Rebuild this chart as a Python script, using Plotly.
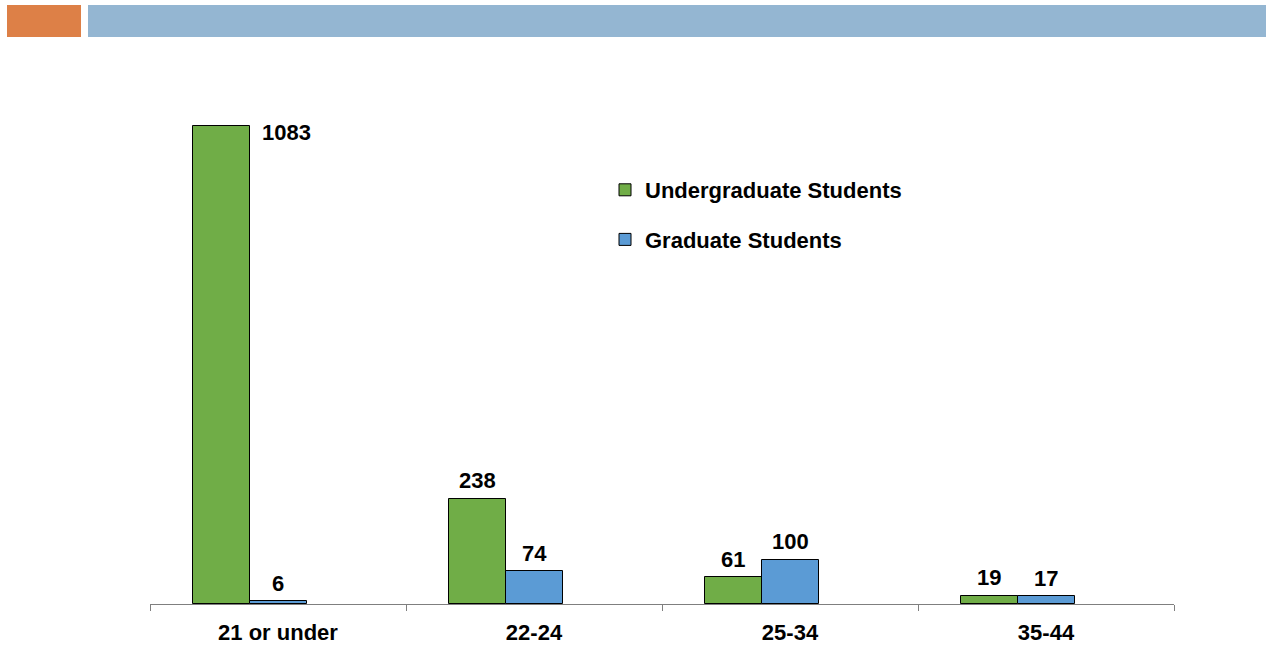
import plotly.graph_objects as go

# Student counts by age group
age_groups = ["21 or under", "22-24", "25-34", "35-44"]
undergrad = [1083, 238, 61, 19]
graduate = [6, 74, 100, 17]

GREEN = "#70AD47"
BLUE = "#5B9BD5"
FONT = "Liberation Sans, Arial, sans-serif"
FS = 22

# each category holds three bar slots; the third slot stays empty
BAR_W = 57 / 256
OFFSETS = (-1.5 * BAR_W, -0.5 * BAR_W)

fig = go.Figure()
fig.add_trace(go.Bar(
    x=age_groups, y=undergrad, name="<b>Undergraduate Students</b>",
    width=BAR_W, offset=OFFSETS[0],
    marker=dict(color=GREEN, line=dict(color="black", width=1)),
    legendgroup="u",
))
fig.add_trace(go.Bar(
    x=age_groups, y=graduate, name="<b>Graduate Students</b>",
    width=BAR_W, offset=OFFSETS[1],
    marker=dict(color=BLUE, line=dict(color="black", width=1)),
    legendgroup="g",
))

# value labels above the bars
bar_px = 57
annotations = []
for i, cat in enumerate(age_groups):
    for vals, off in ((undergrad, -bar_px), (graduate, 0)):
        v = vals[i]
        xs, ys = off, 18
        if v == max(undergrad):
            # tallest bar: label sits beside its top
            xs, ys = off + 65, -7
        annotations.append(dict(
            x=cat, y=v, xref="x", yref="y", text=f"<b>{v}</b>",
            showarrow=False, xshift=xs, yshift=ys,
            xanchor="center", yanchor="middle",
            font=dict(family=FONT, size=FS, color="black"),
        ))

# header bands across the top
shapes = [
    dict(type="rect", xref="paper", yref="paper",
         x0=(7 - 150) / 1024, x1=(81 - 150) / 1024,
         y0=(604 - 37) / 530, y1=(604 - 5) / 530,
         fillcolor="#DD8047", line=dict(width=0), layer="below"),
    dict(type="rect", xref="paper", yref="paper",
         x0=(88 - 150) / 1024, x1=(1266 - 150) / 1024,
         y0=(604 - 37) / 530, y1=(604 - 5) / 530,
         fillcolor="#94B6D2", line=dict(width=0), layer="below"),
]

fig.update_layout(
    width=1266, height=645,
    margin=dict(l=150, r=92, t=74, b=41, autoexpand=False),
    paper_bgcolor="white", plot_bgcolor="white",
    barmode="group", bargap=0.0, bargroupgap=0,
    font=dict(family=FONT, size=FS, color="black"),
    shapes=shapes, annotations=annotations,
    legend=dict(
        x=(605 - 150) / 1024, y=(604 - 169) / 530,
        xanchor="left", yanchor="top",
        traceorder="grouped", tracegroupgap=18,
        font=dict(family=FONT, size=FS, color="black"),
        bgcolor="rgba(0,0,0,0)", itemwidth=30,
    ),
    xaxis=dict(
        showline=True, linecolor="#7F7F7F", linewidth=1,
        ticks="outside", tickson="boundaries", ticklen=6,
        tickcolor="#7F7F7F", showgrid=False,
        tickfont=dict(family=FONT, size=FS, color="black"),
        tickprefix="<b>", ticksuffix="</b>",
        ticklabelstandoff=9, automargin=False,
    ),
    yaxis=dict(range=[0, 1200], visible=False, showgrid=False,
               automargin=False),
)

fig.write_html("out.html")
